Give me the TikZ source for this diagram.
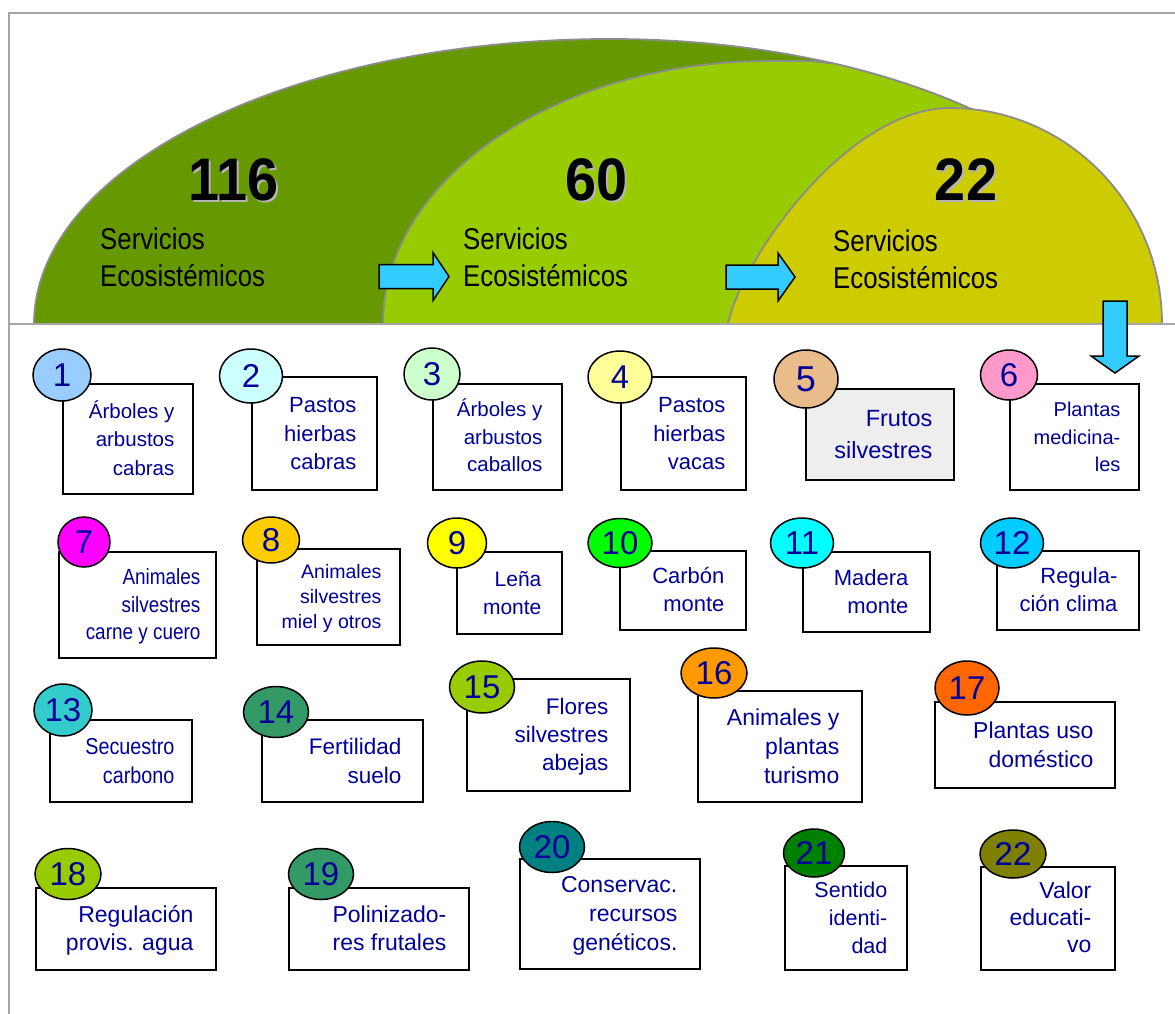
\documentclass[tikz,border=0pt]{standalone}
\usepackage{fontspec}
\setmainfont{Liberation Sans}
\newfontfamily\narrowsans[FakeStretch=0.86]{Liberation Sans}
\newfontfamily\countfont[FakeStretch=0.93]{Liberation Sans}
\usetikzlibrary{shapes.geometric}

\definecolor{archdark}{HTML}{669900}
\definecolor{archmid}{HTML}{99CC00}
\definecolor{archlight}{HTML}{CCCC00}
\definecolor{edgegray}{HTML}{8C8C8C}
\definecolor{framegray}{HTML}{A6A6A6}
\definecolor{shadowgray}{HTML}{B4B4B4}
\definecolor{arrowcyan}{HTML}{33CCFF}
\definecolor{navyblue}{HTML}{000099}
\definecolor{palegray}{HTML}{EEEEEE}
\definecolor{cA}{HTML}{99CCFF}
\definecolor{cB}{HTML}{CCFFFF}
\definecolor{cC}{HTML}{CCFFCC}
\definecolor{cD}{HTML}{FFFF99}
\definecolor{cE}{HTML}{E9BC8C}
\definecolor{cF}{HTML}{FF99CC}
\definecolor{cG}{HTML}{FF00FF}
\definecolor{cH}{HTML}{FFCC00}
\definecolor{cI}{HTML}{FFFF00}
\definecolor{cJ}{HTML}{00FF00}
\definecolor{cK}{HTML}{00FFFF}
\definecolor{cL}{HTML}{00CCFF}
\definecolor{cM}{HTML}{33CCCC}
\definecolor{cN}{HTML}{339966}
\definecolor{cO}{HTML}{99CC00}
\definecolor{cP}{HTML}{FF9900}
\definecolor{cQ}{HTML}{FF6600}
\definecolor{cR}{HTML}{008080}
\definecolor{cS}{HTML}{008000}
\definecolor{cT}{HTML}{808000}

% outlines of the three arches (pixel units, y pointing down)
\newcommand\archOne{(34,324) .. controls (34,166.6) and (291.9,39) .. (610,39) .. controls (913.8,39) and (1160,166.6) .. (1160,324)}
\newcommand\archTwoEdge{(383,324) .. controls (383,178.7) and (556.3,61) .. (770,61) .. controls (800,61) and (815,60.5) .. (830,63.5)}
\newcommand\archThree{(728,324) .. controls (741,260) and (846.5,108) .. (950,108) .. controls (1067,108) and (1162,204.8) .. (1162,324)}
\newcommand\rlines[1]{\begin{tabular}{@{}r@{}}#1\end{tabular}}

\begin{document}
\begin{tikzpicture}[x=1pt, y=-1pt,
  frameline/.style={draw=framegray, line width=2pt},
  archedge/.style={draw=edgegray, line width=1.8pt},
  blockarrow/.style={draw=black, fill=arrowcyan, line width=1.5pt, line join=miter},
  svcbox/.style={draw=black, line width=1.6pt, fill=white, inner sep=0pt, anchor=north west},
  svctext/.style={anchor=east, inner sep=0pt, text=navyblue, yshift=-2pt},
  numdisc/.style={ellipse, draw=black, line width=1.5pt, inner sep=0pt, text=navyblue,
    font=\fontsize{33}{33}\selectfont},
  bignum/.style={anchor=base, inner sep=0pt, font=\countfont\bfseries\fontsize{60}{60}\selectfont},
  svclabel/.style={anchor=base west, inner sep=0pt, font=\narrowsans\fontsize{30}{37}\selectfont}
]
\useasboundingbox (0,0) rectangle (1175,1014);
\fill[white] (0,0) rectangle (1175,1014);

% ---- arches ----
\fill[archdark] \archOne -- cycle;
\draw[archedge] \archOne;

\fill[archmid] \archTwoEdge -- (840,70) -- (840,324) -- cycle;
\begin{scope}
  \clip (830,0) rectangle (1175,324);
  \fill[archmid] \archOne -- cycle;
  \draw[archedge] \archOne;
\end{scope}
\draw[archedge] \archTwoEdge;

\fill[archlight] \archThree -- cycle;
\draw[archedge] \archThree;

% ---- frame ----
\draw[frameline] (1175,13) -- (9,13) -- (9,1014);
\draw[frameline] (9,324) -- (1175,324);

% ---- totals ----
\node[bignum, text=shadowgray] (n116s) at (236,202) {116};
\node[bignum] (n116) at (234,200) {116};
\node[bignum, text=shadowgray] (n60s) at (598.5,202) {60};
\node[bignum] (n60) at (596.5,200) {60};
\node[bignum, text=shadowgray] (n22s) at (968,202) {22};
\node[bignum] (n22) at (966,200) {22};

\node[svclabel] (s116) at (100,249) {\begin{tabular}[t]{@{}l@{}}Servicios\\Ecosistémicos\end{tabular}};
\node[svclabel] (s60) at (463,249) {\begin{tabular}[t]{@{}l@{}}Servicios\\Ecosistémicos\end{tabular}};
\node[svclabel] (s22) at (833,251) {\begin{tabular}[t]{@{}l@{}}Servicios\\Ecosistémicos\end{tabular}};

% ---- block arrows ----
\draw[blockarrow] (379,264.5) -- (433,264.5) -- (433,252.5) -- (449,276.5) -- (433,300.5) -- (433,288.5) -- (379,288.5) -- cycle;
\draw[blockarrow] (726,265) -- (778,265) -- (778,253) -- (795,277) -- (778,301) -- (778,289) -- (726,289) -- cycle;
\draw[blockarrow] (1103,301) -- (1127,301) -- (1127,356) -- (1139,356) -- (1115,373) -- (1091,356) -- (1103,356) -- cycle;

% ---- row 1 ----
\node[svcbox, minimum width=130, minimum height=110] (b1) at (62,383) {};
\node[svctext, font=\fontsize{20.5}{28.5}\selectfont] (t1) at ([xshift=-19pt]b1.east) {\rlines{Árboles y\\arbustos\\cabras}};
\node[numdisc, fill=cA, minimum width=58, minimum height=52] (c1) at (62,375) {1};

\node[svcbox, minimum width=125, minimum height=113] (b2) at (251,376) {};
\node[svctext, font=\fontsize{22}{28.7}\selectfont] (t2) at ([xshift=-21pt]b2.east) {\rlines{Pastos\\hierbas\\cabras}};
\node[numdisc, fill=cB, minimum width=63, minimum height=54] (c2) at (251,376) {2};

\node[svcbox, minimum width=129, minimum height=106] (b3) at (432,383) {};
\node[svctext, font=\fontsize{20.5}{27.5}\selectfont] (t3) at ([xshift=-20pt]b3.east) {\rlines{Árboles y\\arbustos\\caballos}};
\node[numdisc, fill=cC, minimum width=56, minimum height=52] (c3) at (432,374) {3};

\node[svcbox, minimum width=125, minimum height=113] (b4) at (620,376) {};
\node[svctext, font=\fontsize{22}{28.5}\selectfont] (t4) at ([xshift=-21pt]b4.east) {\rlines{Pastos\\hierbas\\vacas}};
\node[numdisc, fill=cD, minimum width=64, minimum height=52] (c4) at (620,377) {4};

\node[svcbox, fill=palegray, minimum width=148, minimum height=91] (b5) at (805,388) {};
\node[svctext, font=\fontsize{23.5}{32}\selectfont] (t5) at ([xshift=-22pt]b5.east) {\rlines{Frutos\\silvestres}};
\node[numdisc, fill=cE, minimum width=64, minimum height=58, font=\fontsize{36}{36}\selectfont] (c5) at (806,379) {5};

\node[svcbox, minimum width=129, minimum height=106] (b6) at (1009,383) {};
\node[svctext, font=\fontsize{20}{27.5}\selectfont] (t6) at ([xshift=-19pt]b6.east) {\rlines{Plantas\\medicina-\\les}};
\node[numdisc, fill=cF, minimum width=57, minimum height=50] (c6) at (1009,375) {6};

% ---- row 2 ----
\node[svcbox, minimum width=157, minimum height=106] (b7) at (58,551) {};
\node[svctext, font=\narrowsans\fontsize{22}{27.5}\selectfont] (t7) at ([xshift=-16pt]b7.east) {\rlines{Animales\\silvestres\\carne y cuero}};
\node[numdisc, fill=cG, minimum width=52, minimum height=50] (c7) at (84,542) {7};

\node[svcbox, minimum width=143, minimum height=96] (b8) at (256,548) {};
\node[svctext, font=\fontsize{19.5}{25}\selectfont] (t8) at ([xshift=-19pt]b8.east) {\rlines{Animales\\silvestres\\miel y otros}};
\node[numdisc, fill=cH, minimum width=57, minimum height=46] (c8) at (271,540) {8};

\node[svcbox, minimum width=105, minimum height=82] (b9) at (456,551) {};
\node[svctext, font=\fontsize{21}{27.7}\selectfont] (t9) at ([xshift=-21pt]b9.east) {\rlines{Leña\\monte}};
\node[numdisc, fill=cI, minimum width=59, minimum height=50] (c9) at (457,543) {9};

\node[svcbox, minimum width=126, minimum height=79] (b10) at (619,550) {};
\node[svctext, font=\fontsize{22}{27.7}\selectfont] (t10) at ([xshift=-22pt]b10.east) {\rlines{Carbón\\monte}};
\node[numdisc, fill=cJ, minimum width=64, minimum height=49] (c10) at (620,543) {10};

\node[svcbox, minimum width=127, minimum height=80] (b11) at (802,551) {};
\node[svctext, font=\fontsize{22}{27.7}\selectfont] (t11) at ([xshift=-22pt]b11.east) {\rlines{Madera\\monte}};
\node[numdisc, fill=cK, minimum width=63, minimum height=50] (c11) at (802,543) {11};

\node[svcbox, minimum width=142, minimum height=79] (b12) at (996,550) {};
\node[svctext, font=\fontsize{22}{27.7}\selectfont] (t12) at ([xshift=-22pt]b12.east) {\rlines{Regula-\\ción clima}};
\node[numdisc, fill=cL, minimum width=63, minimum height=50] (c12) at (1012,543) {12};

% ---- row 3 ----
\node[svcbox, minimum width=142, minimum height=82] (b13) at (49,719) {};
\node[svctext, font=\narrowsans\fontsize{23}{29}\selectfont] (t13) at ([xshift=-18pt]b13.east) {\rlines{Secuestro\\carbono}};
\node[numdisc, fill=cM, minimum width=58, minimum height=52] (c13) at (63,710) {13};

\node[svcbox, minimum width=161, minimum height=82] (b14) at (261,719) {};
\node[svctext, font=\fontsize{22.5}{29}\selectfont] (t14) at ([xshift=-22pt]b14.east) {\rlines{Fertilidad\\suelo}};
\node[numdisc, fill=cN, minimum width=65, minimum height=51] (c14) at (276,712) {14};

\node[svcbox, minimum width=163, minimum height=112] (b15) at (466,678) {};
\node[svctext, font=\fontsize{22.5}{28}\selectfont] (t15) at ([xshift=-22pt]b15.east) {\rlines{Flores\\silvestres\\abejas}};
\node[numdisc, fill=cO, minimum width=65, minimum height=52] (c15) at (482,687) {15};

\node[svcbox, minimum width=164, minimum height=111] (b16) at (697,690) {};
\node[svctext, font=\fontsize{23}{29}\selectfont] (t16) at ([xshift=-23pt]b16.east) {\rlines{Animales y\\plantas\\turismo}};
\node[numdisc, fill=cP, minimum width=66, minimum height=50] (c16) at (714,673) {16};

\node[svcbox, minimum width=180, minimum height=86] (b17) at (934,701) {};
\node[svctext, font=\fontsize{23}{29}\selectfont] (t17) at ([xshift=-22pt]b17.east) {\rlines{Plantas uso\\doméstico}};
\node[numdisc, fill=cQ, minimum width=64, minimum height=54] (c17) at (967,688) {17};

% ---- row 4 ----
\node[svcbox, minimum width=180, minimum height=82] (b18) at (35,887) {};
\node[svctext, font=\fontsize{23}{28}\selectfont] (t18) at ([xshift=-23pt]b18.east) {\rlines{Regulación\\provis. agua}};
\node[numdisc, fill=cO, minimum width=66, minimum height=51] (c18) at (68,874) {18};

\node[svcbox, minimum width=180, minimum height=82] (b19) at (288,887) {};
\node[svctext, font=\fontsize{23}{28}\selectfont] (t19) at ([xshift=-23pt]b19.east) {\rlines{Polinizado-\\res frutales}};
\node[numdisc, fill=cN, minimum width=65, minimum height=51] (c19) at (321,874) {19};

\node[svcbox, minimum width=180, minimum height=110] (b20) at (519,858) {};
\node[svctext, font=\fontsize{23}{29}\selectfont] (t20) at ([xshift=-23pt]b20.east) {\rlines{Conservac.\\recursos\\genéticos.}};
\node[numdisc, fill=cR, minimum width=65, minimum height=51] (c20) at (552,847) {20};

\node[svcbox, minimum width=122, minimum height=104] (b21) at (784,865) {};
\node[svctext, font=\fontsize{21.5}{28}\selectfont] (t21) at ([xshift=-20pt]b21.east) {\rlines{Sentido\\identi-\\dad}};
\node[numdisc, fill=cS, minimum width=61, minimum height=48] (c21) at (814,853) {21};

\node[svcbox, minimum width=134, minimum height=103] (b22) at (980,866) {};
\node[svctext, font=\fontsize{23}{27}\selectfont] (t22) at ([xshift=-24pt]b22.east) {\rlines{Valor\\educati-\\vo}};
\node[numdisc, fill=cT, minimum width=66, minimum height=48] (c22) at (1013,854) {22};

\end{tikzpicture}
\end{document}
